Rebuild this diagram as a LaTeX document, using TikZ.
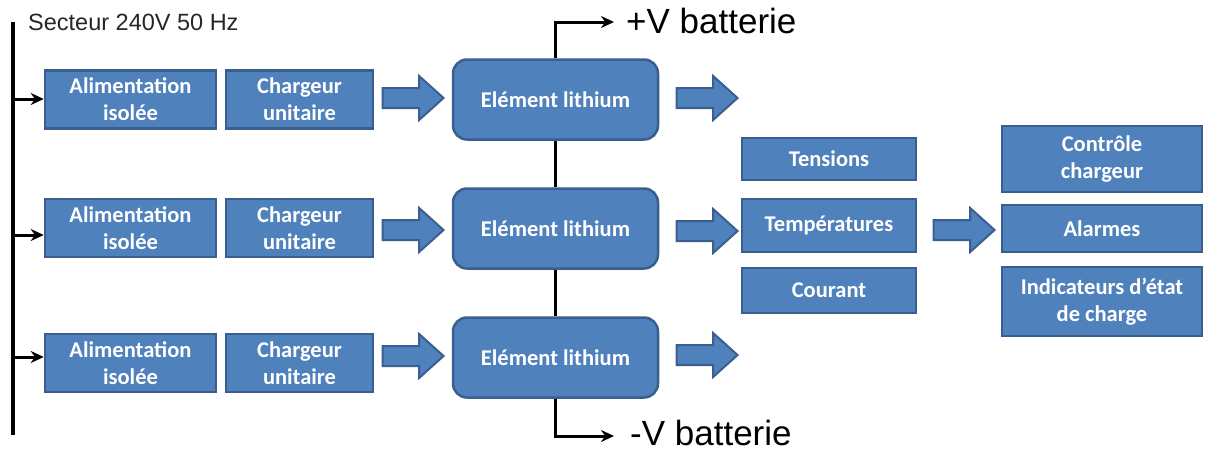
\documentclass[tikz,border=0pt]{standalone}
\usepackage{fontspec}
\setmainfont{Liberation Sans}
\newfontfamily\boxfont{Carlito}
\usetikzlibrary{arrows.meta,shapes.arrows}
\definecolor{blu}{HTML}{4F81BD}
\definecolor{bdr}{HTML}{3A5F8E}
\tikzset{
  blk/.style={draw=bdr, line width=2.5pt, fill=blu, text=white,
    font=\boxfont\bfseries\fontsize{22.5}{27}\selectfont, align=center, inner sep=0pt},
  elem/.style={blk, rounded corners=14pt, minimum width=205pt, minimum height=80pt},
  ali/.style={blk, minimum width=171pt, minimum height=58pt},
  chg/.style={blk, minimum width=147pt, minimum height=58pt},
  mid/.style={blk, minimum width=174pt},
  rgt/.style={blk, minimum width=200pt},
  barrow/.style={single arrow, draw=bdr, fill=blu, line width=2pt,
    minimum height=61pt, inner xsep=0pt, inner ysep=9pt,
    single arrow head extend=12pt, single arrow tip angle=84, single arrow head indent=0pt},
  wire/.style={line width=3pt, black},
  feed/.style={line width=3pt, black, -{Stealth[length=13pt,width=12pt]}},
  big/.style={font=\fontsize{35}{40}\selectfont, inner sep=0pt},
}
\begin{document}
\begin{tikzpicture}[x=1pt,y=-1pt]
\useasboundingbox (0,0) rectangle (1211,450);
% bus
\coordinate (bt) at (13,22);
\coordinate (bb) at (13,435);
\draw[wire, line width=3.5pt] (bt) -- (bb);
\node[anchor=base west, inner sep=0pt, font=\fontsize{23.5}{26}\selectfont, text=black!85] (sect) at (28,30) {Secteur 240V 50 Hz};
% rows
\foreach \i/\y/\ya/\yb/\yf in {1/99.5/98/98/99, 2/228/230/231/235, 3/363/356/355/357}{
  \node[ali] (a\i) at (130.5,\y) {Alimentation\\isolée};
  \node[chg] (c\i) at (299.5,\y) {Chargeur\\unitaire};
  \coordinate (f\i) at (13,\yf);
  \draw[feed] (f\i) -- (a\i.west |- f\i);
  \node[barrow] (p\i) at (407.5,\ya) {};
  \node[barrow] (q\i) at (701.5,\yb) {};
}
\node[elem] (e1) at (555.5,99.5) {Elément lithium};
\node[elem] (e2) at (555.5,228.5) {Elément lithium};
\node[elem] (e3) at (555.5,357.5) {Elément lithium};
\draw[wire] (e1.south) -- (e2.north);
\draw[wire] (e2.south) -- (e3.north);
% battery terminals
\coordinate (vp) at (614,22);
\coordinate (vm) at (614,436);
\draw[feed] (e1.north) |- (vp);
\draw[feed] (e3.south) |- (vm);
\node[big, anchor=base west] (tp) at (626,33) {+V batterie};
\node[big, anchor=base west] (tm) at (630,445) {-V batterie};
% measurements
\node[mid, minimum height=42pt] (ten) at (829,159) {Tensions};
\node[mid, minimum height=53pt] (tem) at (829,225.5) {Températures};
\node[mid, minimum height=45pt] (cou) at (829,290.5) {Courant};
\node[barrow] (r) at (958.5,230) {};
\node[rgt, minimum height=66pt] (ctl) at (1102,159) {Contrôle\\chargeur};
\node[rgt, minimum height=47pt] (alm) at (1102,228.5) {Alarmes};
\node[rgt, minimum height=69pt] (ind) at (1102,301.5) {Indicateurs d’état\\de charge};
\end{tikzpicture}
\end{document}
